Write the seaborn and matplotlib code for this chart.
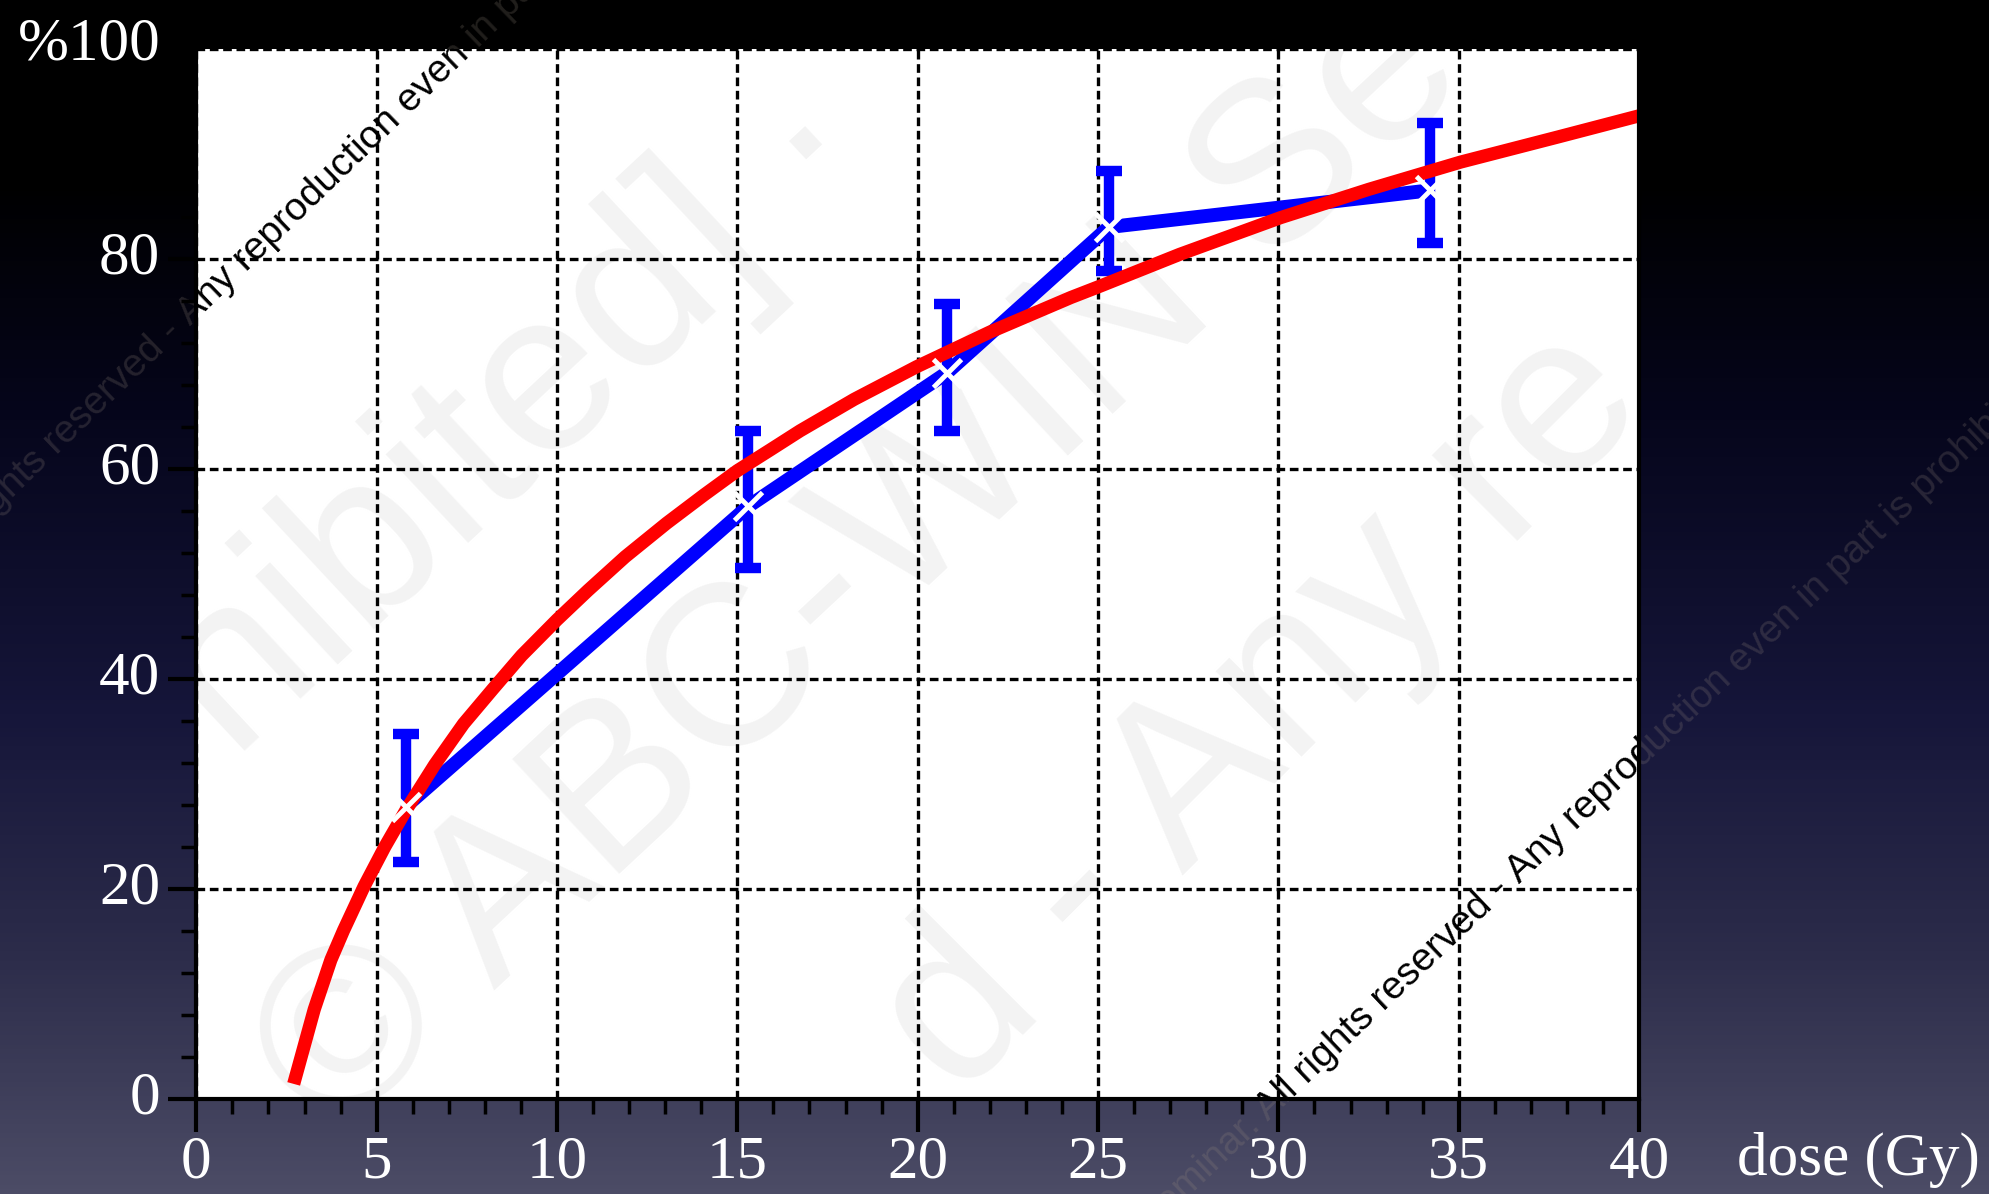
import numpy as np
import pandas as pd
import matplotlib
matplotlib.use("Agg")
import matplotlib.pyplot as plt
from matplotlib.colors import LinearSegmentedColormap
from matplotlib.ticker import MultipleLocator
from matplotlib.transforms import ScaledTranslation
import seaborn as sns

# ---- data ----
dose_meas = [5.8, 15.3, 20.8, 25.3, 34.2]
resp_meas = [27.8, 56.4, 69.1, 83.0, 86.5]
err_low = [22.5, 50.5, 63.6, 78.8, 81.5]
err_high = [34.7, 63.6, 75.7, 88.3, 92.9]

dose_fit = [2.7, 3.27, 3.73, 4.08, 4.65, 5.23, 5.8, 6.61, 7.41, 8.22, 9.02, 10.0,
            10.86, 11.89, 13.04, 14.08, 15.0, 15.92, 16.74, 18.24, 19.97, 22.0,
            24.25, 25.0, 27.26, 30.06, 32.51, 35.06, 37.77, 40.0]
resp_fit = [1.4, 8.5, 13.2, 16.0, 20.2, 24.0, 27.4, 31.8, 35.7, 39.0, 42.2, 45.6,
            48.4, 51.6, 54.8, 57.5, 59.8, 61.8, 63.6, 66.6, 69.7, 73.0,
            76.3, 77.3, 80.4, 83.9, 86.6, 89.2, 91.6, 93.6]

x_ticks = [0, 5, 10, 15, 20, 25, 30, 35, 40]
y_ticks = [0, 20, 40, 60, 80, 100]
y_tick_labels = ["0", "20", "40", "60", "80", "%100"]
x_label = "dose (Gy)"
wm_prefix = "© ABC-WIN Seminar. All rights reserved - "
wm_suffix = "Any reproduction even in part is prohibited"
big_marks = ["© ABC-WIN Se", "hibited] ·", "d - Any re"]

sns.set_theme(style="white")
plt.rcParams["font.family"] = ["Liberation Serif", "DejaVu Serif"]

W, H = 1990, 1194
fig = plt.figure(figsize=(W / 100, H / 100), dpi=100)

# background gradient
bg = fig.add_axes([0, 0, 1, 1], zorder=-10)
cmap = LinearSegmentedColormap.from_list(
    "bg", [(0.0, "#000000"), (0.15, "#000000"), (0.35, "#06061c"),
           (0.6, "#16163a"), (0.8, "#2c2c4a"), (1.0, "#4c4c66")])
grad = np.linspace(0, 1, 256).reshape(-1, 1)
bg.imshow(grad, aspect="auto", cmap=cmap, extent=[0, 1, 1, 0])
bg.set_xlim(0, 1); bg.set_ylim(1, 0)
bg.axis("off")

ax = fig.add_axes([196.3 / W, 1 - 1098.6 / H, 1442.8 / W, 1050 / H])
ax.set_facecolor("white")

def px(x, y):
    return (x / W, 1 - y / H)

# big faint watermark inside plot (below grid and data)
for s, (cx, cy), rot in zip(big_marks, [(862, 566), (515, 418), (1262, 712)], [43, 43, 45]):
    fx, fy = px(cx, cy)
    ax.text(fx, fy, s, transform=fig.transFigure, rotation=rot, fontsize=165,
            color="#f3f3f3", family="Liberation Sans", ha="center", va="center",
            rotation_mode="anchor", zorder=0.5, clip_on=True)

# small diagonal watermark lines: split into a prefix and suffix around an anchor
for (ax_x, ax_y), rot in [((190, 326), 44), ((1519, 884), 43.5)]:
    fx, fy = px(ax_x, ax_y)
    for txt, ha in [(wm_prefix, "right"), (wm_suffix, "left")]:
        fig.text(fx, fy, txt, rotation=rot, rotation_mode="anchor", ha=ha, va="baseline",
                 fontsize=28, family="Liberation Sans", color=(0.6, 0.55, 0.5, 0.22),
                 zorder=-5)
        ax.text(fx, fy, txt, transform=fig.transFigure, rotation=rot, rotation_mode="anchor",
                ha=ha, va="baseline", fontsize=28, family="Liberation Sans",
                color="black", zorder=2.5, clip_on=True)

meas = pd.DataFrame({"dose": dose_meas, "resp": resp_meas})
fit = pd.DataFrame({"dose": dose_fit, "resp": resp_fit})

lo = np.array(resp_meas) - np.array(err_low)
hi = np.array(err_high) - np.array(resp_meas)
ax.errorbar(dose_meas, resp_meas, yerr=[lo, hi], fmt="none", ecolor="#0000ff",
            elinewidth=7.5, capsize=9.5, capthick=7.5, zorder=3)
sns.lineplot(data=meas, x="dose", y="resp", ax=ax, color="#0000ff",
             linewidth=10, zorder=3, sort=False)
sns.lineplot(data=fit, x="dose", y="resp", ax=ax, color="#ff0000",
             linewidth=9.5, zorder=4, sort=False)
for l in ax.get_lines():
    l.set_solid_joinstyle("round")
    l.set_solid_capstyle("butt")
ax.plot(dose_meas, resp_meas, linestyle="none", marker="x", color="white",
        markersize=20, markeredgewidth=3.5, zorder=5)

ax.set_xlim(0, 40)
ax.set_ylim(0, 100)
ax.set_xticks(x_ticks)
ax.set_yticks(y_ticks)
ax.set_yticklabels(y_tick_labels)
ax.xaxis.set_minor_locator(MultipleLocator(1))
ax.yaxis.set_minor_locator(MultipleLocator(4))
ax.set_xlabel("")
ax.set_ylabel("")

ax.grid(True, which="major", color="black", linestyle=(0, (2.6, 1.4)), linewidth=2.4)
ax.set_axisbelow(False)
for l in ax.get_xgridlines() + ax.get_ygridlines():
    l.set_zorder(2)

for s in ["left", "bottom", "right"]:
    ax.spines[s].set_visible(True)
    ax.spines[s].set_color("black")
    ax.spines[s].set_linewidth(3)
    ax.spines[s].set_zorder(6)
ax.spines["top"].set_visible(False)

ax.tick_params(axis="both", which="major", direction="out", length=20, width=3,
               color="black", labelcolor="white", labelsize=44, pad=6,
               left=True, bottom=True)
ax.tick_params(axis="both", which="minor", direction="out", length=11, width=2.5,
               color="black", left=True, bottom=True)
ax.tick_params(axis="x", which="major", length=24, pad=2)

labs = ax.get_yticklabels()
for i, lab in enumerate(labs):
    dy = 0.10 if i == len(labs) - 1 else 0.065
    lab.set_transform(lab.get_transform() + ScaledTranslation(0, dy, fig.dpi_scale_trans))

fig.text(0.995, 0.016, x_label, color="white", fontsize=44, ha="right", va="baseline")

fig.savefig("out.png", dpi=100)
